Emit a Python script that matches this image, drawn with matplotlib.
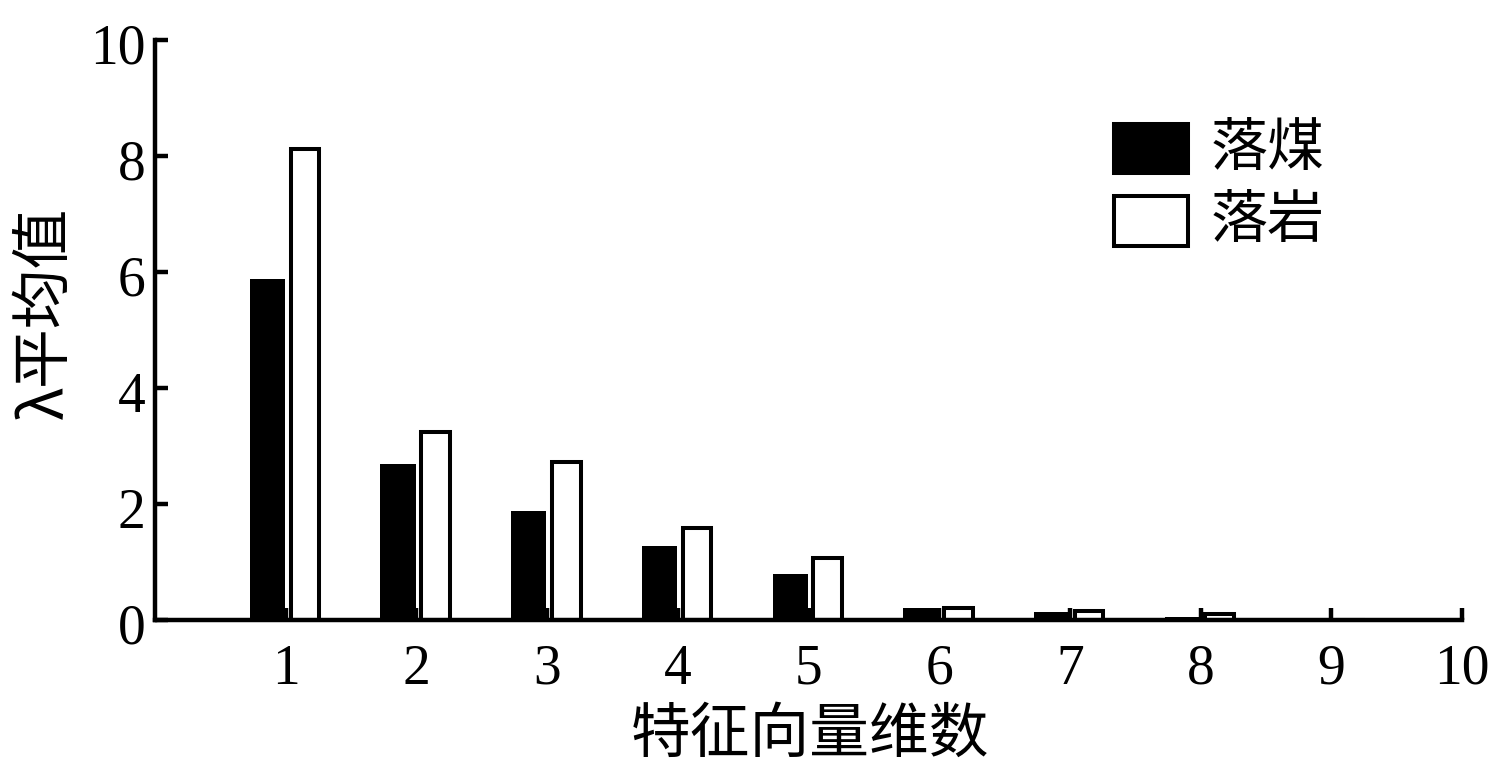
import matplotlib
matplotlib.use("Agg")
import matplotlib.pyplot as plt
import matplotlib.transforms as mtransforms
import numpy as np
from matplotlib.patches import Rectangle

dims = [1, 2, 3, 4, 5, 6, 7, 8, 9, 10]
coal = [5.88, 2.69, 1.88, 1.28, 0.79, 0.21, 0.13, 0.06, 0.0, 0.0]
rock = [8.12, 3.25, 2.72, 1.59, 1.07, 0.21, 0.15, 0.10, 0.0, 0.0]
series_names = ["落煤", "落岩"]
xlabel = "特征向量维数"
ylabel = "λ平均值"
yticks = [0, 2, 4, 6, 8, 10]

W, H = 1496, 763
fig = plt.figure(figsize=(W / 100, H / 100), dpi=100)
ax = fig.add_axes([155 / W, (H - 620) / H, (1462 - 155) / W, (620 - 40) / H])

cjk = ['Noto Sans CJK SC', 'DejaVu Sans']
serif = 'Liberation Serif'
lw = 3.2
blw = 2.9

x = np.array(dims, dtype=float)
ax.bar(x - 0.275, coal, width=0.27, align='edge', color='black', edgecolor='black', linewidth=0, zorder=2)
ax.bar(x + 0.037, rock, width=0.22, align='edge', color='white', edgecolor='black', linewidth=blw, zorder=2)

ax.set_xlim(0, 10)
ax.set_ylim(0, 10)
ax.set_xticks(dims)
ax.set_yticks(yticks)
ax.set_xticklabels([str(d) for d in dims], fontfamily=serif, fontsize=40)
ax.set_yticklabels([str(t) for t in yticks], fontfamily=serif, fontsize=40)
ax.tick_params(axis='both', direction='in', length=9, width=lw, colors='black')
ax.tick_params(axis='x', pad=17)
ax.tick_params(axis='y', pad=7)
offset = mtransforms.ScaledTranslation(0, -4 / 100, fig.dpi_scale_trans)
for lab in ax.get_yticklabels():
    lab.set_transform(lab.get_transform() + offset)
for s in ['top', 'right']:
    ax.spines[s].set_visible(False)
for s in ['left', 'bottom']:
    ax.spines[s].set_linewidth(lw)
    ax.spines[s].set_zorder(3)

fig.text(810 / W, 1 - 735 / H, xlabel, fontfamily=cjk, fontsize=43, ha='center', va='center')
fig.text(45 / W, 1 - 313 / H, ylabel, fontfamily=cjk, fontsize=43, ha='center', va='center', rotation=90)

# legend
leg_items = [("black", series_names[0], 124, 173), ("white", series_names[1], 196, 246)]
for fc, name, y0, y1 in leg_items:
    r = Rectangle((1114 / W, 1 - y1 / H), (1188 - 1114) / W, (y1 - y0) / H,
                  transform=fig.transFigure, facecolor=fc, edgecolor='black', linewidth=blw)
    fig.patches.append(r)
    fig.text(1211 / W, 1 - (y0 + y1) / 2 / H, name, fontfamily=cjk, fontsize=41, ha='left', va='center')

fig.savefig("out.png", dpi=100, facecolor='white')
